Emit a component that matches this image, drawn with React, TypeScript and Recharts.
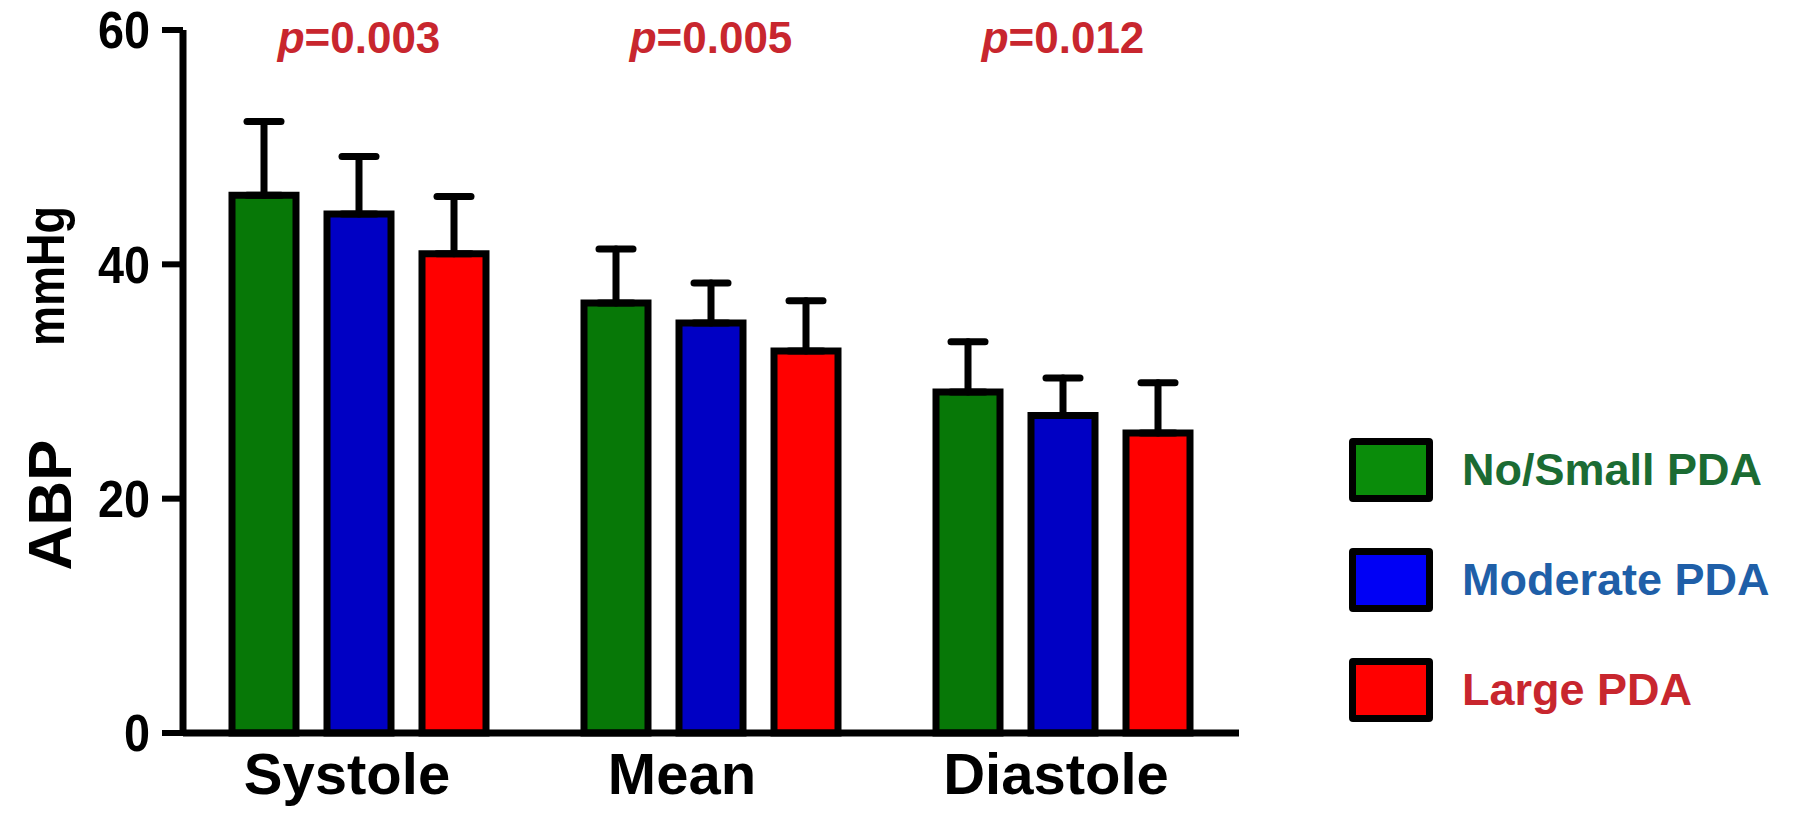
import React from "react";
import { BarChart, Bar, XAxis, YAxis, ErrorBar, Legend } from "recharts";

// categories and p values above each group
const categories = ["Systole", "Mean", "Diastole"];
const pValues = ["0.003", "0.005", "0.012"];

// mean and SD (mmHg) per PDA group
const noSmallMean = [45.9, 36.7, 29.1];
const noSmallSd = [6.3, 4.6, 4.3];
const moderateMean = [44.3, 35.0, 27.1];
const moderateSd = [4.9, 3.4, 3.2];
const largeMean = [40.9, 32.6, 25.6];
const largeSd = [4.9, 4.3, 4.3];

const yTicks = [0, 20, 40, 60];

const groups = [
  { key: "noSmall", name: "No/Small PDA", fill: "#077807", legendFill: "#0a8c0a", text: "#1b6b33" },
  { key: "moderate", name: "Moderate PDA", fill: "#0000c4", legendFill: "#0000f5", text: "#1f5fa8" },
  { key: "large", name: "Large PDA", fill: "#ff0000", legendFill: "#ff0000", text: "#c8262e" },
];

const data = categories.map((c, i) => ({
  category: c,
  noSmall: noSmallMean[i],
  noSmallErr: [0, noSmallSd[i]],
  moderate: moderateMean[i],
  moderateErr: [0, moderateSd[i]],
  large: largeMean[i],
  largeErr: [0, largeSd[i]],
}));

const SANS = "'Liberation Sans', Arial, Helvetica, sans-serif";

// the original labels sit a little left of their groups
const labelShift: Record<string, number> = { Systole: -12, Mean: -29, Diastole: -7 };

// category name under the axis, p value at the top of the plot
const CategoryTick = ({ x, y, payload, index }: any) => (
  <g fontFamily={SANS} fontWeight={700}>
    <text
      x={x + (labelShift[payload.value] ?? 0)}
      y={y}
      dy="0.71em"
      textAnchor="middle"
      fill="#000"
      fontSize={58}
    >
      {payload.value}
    </text>
    <text x={x} y={53} textAnchor="middle" fill="#c8262e" fontSize={44}>
      <tspan fontStyle="italic">p</tspan>={pValues[index]}
    </text>
  </g>
);

// slightly condensed bold digits
const YTick = ({ x, y, payload }: any) => (
  <text
    transform={`translate(${x}, ${y}) scale(0.9, 1)`}
    dy="0.355em"
    textAnchor="end"
    fill="#000"
    fontSize={52}
    fontWeight={700}
    fontFamily={SANS}
  >
    {payload.value}
  </text>
);

const renderYTitle = () => (
  <g fontFamily={SANS} fontWeight={700} fill="#000">
    <text transform="translate(71, 505) rotate(-90)" textAnchor="middle" fontSize={62}>
      ABP
    </text>
    <text
      transform="translate(64, 276) rotate(-90)"
      textAnchor="middle"
      fontSize={54}
      textLength={140}
      lengthAdjust="spacingAndGlyphs"
    >
      mmHg
    </text>
  </g>
);

const LegendBlock = () => (
  <div>
    {groups.map((g) => (
      <div
        key={g.key}
        style={{ display: "flex", alignItems: "center", height: 64, marginBottom: 46 }}
      >
        <div
          style={{
            width: 70,
            height: 50,
            background: g.legendFill,
            border: "7px solid #000",
            borderRadius: 4,
          }}
        />
        <span
          style={{
            marginLeft: 29,
            color: g.text,
            fontFamily: SANS,
            fontWeight: 700,
            fontSize: 45,
            whiteSpace: "nowrap",
          }}
        >
          {g.name}
        </span>
      </div>
    ))}
  </div>
);

export default function App() {
  return (
    <div style={{ position: "absolute", left: 0, top: 0, background: "#fff" }}>
      <BarChart
        width={1800}
        height={828}
        data={data}
        margin={{ top: 30, right: 561, bottom: 0, left: 0 }}
        barSize={64}
        barGap={31}
      >
        <XAxis
          dataKey="category"
          height={95}
          interval={0}
          axisLine={{ stroke: "#000", strokeWidth: 7 }}
          tickLine={false}
          tickSize={0}
          tickMargin={20}
          tick={<CategoryTick />}
        />
        <YAxis
          width={183}
          domain={[0, 60]}
          ticks={yTicks}
          interval={0}
          axisLine={{ stroke: "#000", strokeWidth: 7 }}
          tickLine={{ stroke: "#000", strokeWidth: 6 }}
          tickSize={21}
          tickMargin={12}
          tick={<YTick />}
          label={renderYTitle}
        />
        <Legend
          layout="vertical"
          align="center"
          verticalAlign="middle"
          content={<LegendBlock />}
          wrapperStyle={{ left: 1349, top: 438, width: 450 }}
        />
        {groups.map((g) => (
          <Bar
            key={g.key}
            dataKey={g.key}
            name={g.name}
            fill={g.fill}
            stroke="#000"
            strokeWidth={7}
            isAnimationActive={false}
          >
            <ErrorBar
              dataKey={`${g.key}Err`}
              width={17}
              stroke="#000"
              strokeWidth={7}
              strokeLinecap="round"
              direction="y"
              isAnimationActive={false}
            />
          </Bar>
        ))}
      </BarChart>
    </div>
  );
}
